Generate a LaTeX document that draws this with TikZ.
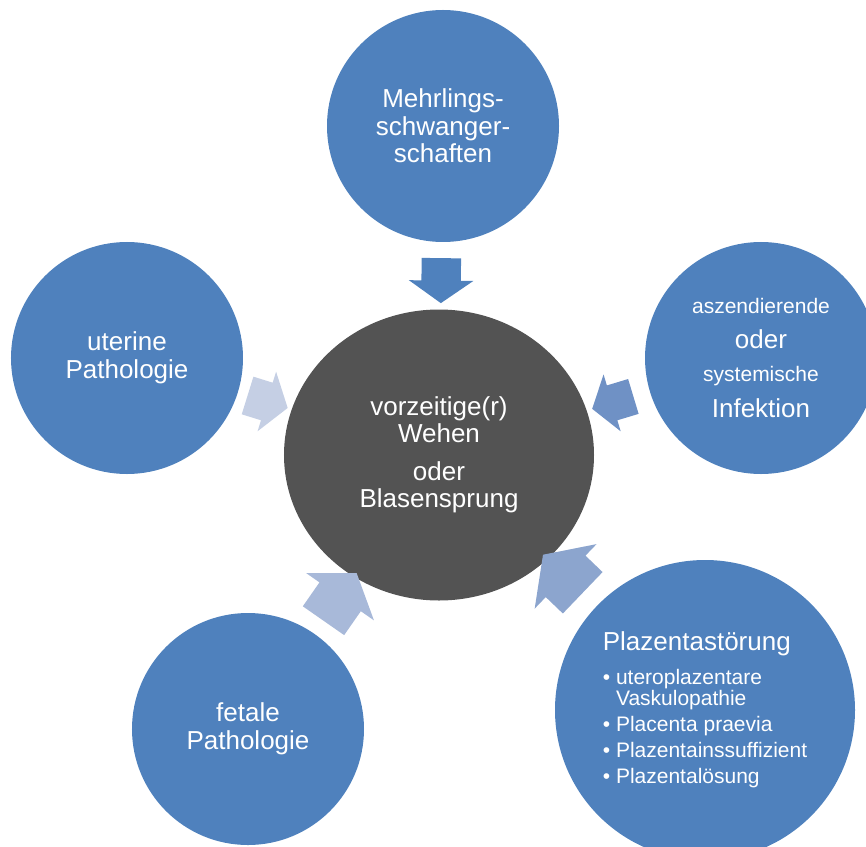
\documentclass[tikz,border=0pt]{standalone}
\usepackage{fontspec}
\setmainfont{Liberation Sans}
\usetikzlibrary{positioning,shapes.geometric,shapes.arrows}

\definecolor{satblue}{RGB}{79,129,189}
\definecolor{hubgray}{RGB}{83,83,83}
\definecolor{arrowA}{RGB}{79,129,189}
\definecolor{arrowB}{RGB}{111,145,197}
\definecolor{arrowC}{RGB}{140,165,206}
\definecolor{arrowD}{RGB}{168,185,217}
\definecolor{arrowE}{RGB}{197,207,228}

\begin{document}
\begin{tikzpicture}[on grid,
		satellite/.style={circle, fill=satblue, text=white, minimum size=232pt,
			inner sep=0pt, align=center, font=\fontsize{26}{27.5}\selectfont},
		hub/.style={ellipse, fill=hubgray, text=white, minimum width=310pt,
			minimum height=291pt, inner sep=0pt, align=center,
			font=\fontsize{26}{27}\selectfont},
		blockarrow/.style={single arrow, single arrow tip angle=110,
			single arrow head indent=0pt, inner xsep=0pt, minimum width=0pt,
			sloped, allow upside down}]

		\useasboundingbox (-439pt,-391pt) rectangle (427pt,455pt);

		\node[hub] (wehen) at (0,0) {vorzeitige(r)\\Wehen\\[11pt]oder\\Blasensprung};
		\node[satellite] (mehrling) [above=329pt of wehen, xshift=4pt] {Mehrlings-\\schwanger-\\schaften};
		\node[satellite] (uterin) [above left=97pt and 312pt of wehen] {uterine\\Pathologie};
		\node[satellite] (infekt) [above right=97pt and 322pt of wehen]
			{{\fontsize{21}{21}\selectfont aszendierende}\\[7.5pt]oder\\[5.5pt]
			{\fontsize{21}{21}\selectfont systemische}\\[8.5pt]Infektion};
		\node[satellite] (fetal) [below left=274pt and 191pt of wehen] {fetale\\Pathologie};
		\node[satellite, minimum size=300pt, align=left, font=\fontsize{21}{21}\selectfont]
			(plazenta) [below right=255pt and 266pt of wehen]
			{{\fontsize{26}{26}\selectfont Plazentastörung}\\[13pt]
			•\ uteroplazentare\\
			\hphantom{•\ }Vaskulopathie\\[5pt]
			•\ Placenta praevia\\[5pt]
			•\ Plazentainssuffizient\\[5pt]
			•\ Plazentalösung};

		% arrows into the hub
		\path (mehrling) -- node[blockarrow, pos=.47, fill=arrowA, minimum height=45pt,
			inner ysep=19.5pt, single arrow head extend=12.5pt] (pfeilA) {} (wehen);
		\path (infekt) -- node[blockarrow, pos=.49, fill=arrowB, minimum height=43pt,
			inner ysep=18pt, single arrow head extend=11.5pt] (pfeilB) {} (wehen);
		\path (plazenta) -- node[blockarrow, pos=.54, fill=arrowC, minimum height=55pt,
			inner ysep=28.5pt, single arrow head extend=16pt] (pfeilC) {} (wehen);
		\path (fetal) -- node[blockarrow, pos=.52, fill=arrowD, minimum height=58pt,
			inner ysep=25pt, single arrow head extend=16pt] (pfeilD) {} (wehen);
		\path (uterin) -- node[blockarrow, pos=.43, fill=arrowE, minimum height=42pt,
			inner ysep=19.5pt, single arrow head extend=11.5pt] (pfeilE) {} (wehen);
	\end{tikzpicture}
\end{document}
